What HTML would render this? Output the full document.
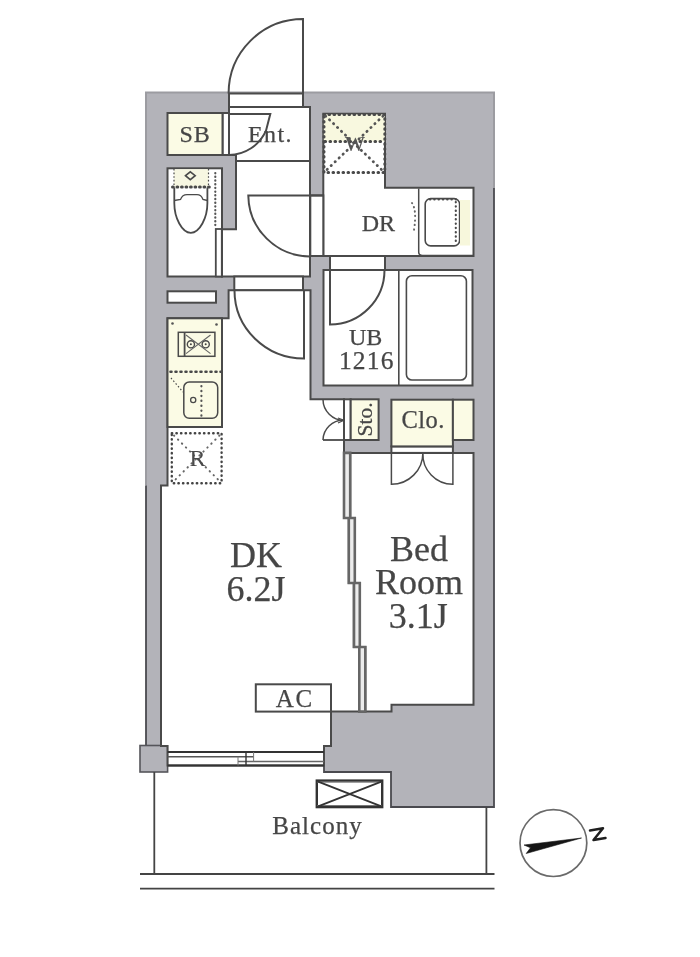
<!DOCTYPE html>
<html><head><meta charset="utf-8"><title>Floor plan</title>
<style>
html,body{margin:0;padding:0;background:#fff;}
body{width:700px;height:957px;overflow:hidden;}
svg{display:block;will-change:transform;}
text{font-family:"Liberation Serif",serif;fill:#464646;stroke:#464646;stroke-width:0.25px;}
</style></head><body>
<svg width="700" height="957" viewBox="0 0 700 957">
<rect width="700" height="957" fill="#fff"/>
<!-- ===== outer gray envelope ===== -->
<path d="M146,92.5 H494 V807 H391 V772 H324 V746 H331 V711.6 H167.6 V746 H146 Z" fill="#b3b3b9"/>
<path d="M494,188 V92.5 H146 V485.5" fill="none" stroke="#9c9ca1" stroke-width="2"/>
<path d="M331,711.6 V746 H324 V772 H391 V807 H494 V188 M146,485.5 V745.5" fill="none" stroke="#4a4a4f" stroke-width="1.8"/>
<!-- left pillar -->
<rect x="140" y="745.5" width="27.6" height="26.5" fill="#b3b3b9" stroke="#55555a" stroke-width="1.6"/>
<!-- ===== white rooms ===== -->
<g fill="#fff" stroke="#4a4a4a" stroke-width="2">
  <!-- entrance door frame in top wall -->
  <rect x="229" y="93.5" width="74" height="13.5"/>
  <!-- Ent -->
  <path d="M229,107 H310 V161 H236 V155 H229 Z"/>
  <!-- SB/Ent strip -->
  <rect x="222.5" y="113" width="6.5" height="42"/>
  <!-- hallway -->
  <path d="M236,161 H310 V276.5 H222 V229.3 H236 Z"/>
  <!-- toilet -->
  <rect x="167.5" y="168.3" width="54.5" height="108.2"/>
  <!-- W + DR -->
  <path d="M323.3,113.8 H385 V187.8 H473.5 V256 H323.3 Z"/>
  <!-- DR door opening -->
  <rect x="310.3" y="195.4" width="13" height="60.6"/>
  <!-- UB -->
  <rect x="323.5" y="270" width="149" height="115.5"/>
  <!-- UB door opening -->
  <rect x="330" y="256" width="55" height="14"/>
  <!-- DK door frame -->
  <rect x="234.3" y="276.5" width="68.7" height="13.8"/>
  <!-- shelf niche -->
  <rect x="167.5" y="291.3" width="48.5" height="11.4"/>
  <!-- DK main polygon -->
  <path d="M228.6,290.3 H310.5 V399.3 H344 V518 H348.8 V583 H353.8 V647 H359.3 V711.6 H331 V746 H324 V765.5 H167.6 V746 H161 V485.4 H167.5 V318.3 H228.6 Z"/>
  <!-- Sto door frame strip -->
  <rect x="344" y="399.3" width="6.7" height="40.7"/>
  <!-- bedroom -->
  <path d="M350.2,452.9 H473.5 V704.7 H391.5 V711.6 H365.3 V647 H359.8 V583 H354.8 V518 H350.2 Z"/>
  <!-- partition strip -->
  <path d="M344,452.9 H350.2 V518 H354.8 V583 H359.8 V647 H365.3 V711.6 H359.3 V647 H354 V583 H348.8 V518 H344 Z" fill="#ececec" stroke="#666" stroke-width="2.6"/>
  <!-- Clo door frame -->
  <rect x="391.4" y="446.4" width="61.5" height="6.5"/>
</g>
<!-- cream boxes -->
<g fill="#fbfbe5" stroke="#4a4a4a" stroke-width="2">
  <rect x="167.5" y="113" width="55" height="42"/>
  <rect x="350.7" y="399.3" width="27.9" height="40.7"/>
  <rect x="391.4" y="399.7" width="61.5" height="46.7"/>
  <rect x="452.9" y="399.7" width="20.6" height="40.3"/>
  <rect x="167.5" y="318.3" width="54.5" height="108.7"/>
</g>

<!-- ===== fixtures ===== -->
<g fill="none" stroke="#4a4a4a" stroke-width="1.8">
  <!-- toilet sliding door -->
  <rect x="215.8" y="229" width="6" height="47.5" fill="#fff"/>
  <!-- toilet tank -->
  <rect x="174" y="169.2" width="34.5" height="17.5" fill="#f7f7e2" stroke="none"/>
  <line x1="172.5" y1="187" x2="210" y2="187" stroke-width="3" stroke-linecap="round" stroke-dasharray="0.8,3.7"/>
  <line x1="174" y1="169" x2="174" y2="187" stroke-width="1.2" stroke-dasharray="1.6,2"/>
  <line x1="208.5" y1="169" x2="208.5" y2="187" stroke-width="1.2" stroke-dasharray="1.6,2"/>
  <path d="M185.5,175.7 L190.3,171.8 L195.2,175.7 L190.3,179.6 Z" stroke-width="1.6"/>
  <!-- bowl -->
  <path d="M174.3,187.5 V203 C174.3,218 182,232.8 190.8,232.8 C199.6,232.8 207.4,218 207.4,203 V187.5"/>
  <path d="M174.3,200.5 L180.5,199.5 C182,195.5 184,194.6 187,194.6 H197 C200,194.6 201.6,195.5 203,199.5 L207.4,200.5" stroke-width="1.3"/>
  <line x1="215.3" y1="173" x2="215.3" y2="226" stroke-width="2.2" stroke-linecap="round" stroke-dasharray="0.3,3.4" stroke="#555"/>
  <!-- SB door small kink -->
  <!-- kitchen stove -->
  <rect x="178.3" y="332.3" width="36.6" height="24" stroke-width="1.5"/>
  <line x1="184.6" y1="332.3" x2="184.6" y2="356.3"/>
  <circle cx="190.9" cy="344.3" r="3.6" stroke-width="1.4"/>
  <circle cx="205.7" cy="344.3" r="3.6" stroke-width="1.4"/>
  <path d="M186,335 L198.3,344.3 L186,353.6 M210.5,335 L198.3,344.3 L210.5,353.6" stroke-width="1.1" stroke="#666"/>
  <circle cx="190.9" cy="344.3" r="1" fill="#444" stroke="none"/>
  <circle cx="205.7" cy="344.3" r="1" fill="#444" stroke="none"/>
  <circle cx="172.5" cy="323.5" r="1.3" fill="#555" stroke="none"/>
  <circle cx="216.5" cy="324.5" r="1.3" fill="#555" stroke="none"/>
  <line x1="170.5" y1="371.7" x2="221" y2="371.7" stroke-width="2.6" stroke-linecap="round" stroke-dasharray="1,4"/>
  <!-- kitchen sink -->
  <rect x="183.8" y="382" width="33.9" height="36.3" rx="5.5" stroke-width="1.5"/>
  <circle cx="193.2" cy="400" r="2.6" stroke-width="1.3"/>
  <line x1="201.4" y1="386" x2="201.4" y2="416" stroke-width="2.2" stroke-linecap="round" stroke-dasharray="0.3,4.6" stroke="#555"/>
  <line x1="171" y1="378" x2="183" y2="392" stroke-width="1.2" stroke-dasharray="1.4,2.2"/>
  <!-- fridge -->
  <rect x="171.8" y="433.2" width="49.8" height="50" stroke-width="2.4" stroke-linecap="round" stroke-dasharray="0.4,4.2" stroke="#444"/>
  <path d="M174,435.5 L219.5,481 M219.5,435.5 L174,481" stroke-width="2" stroke-linecap="round" stroke-dasharray="0.4,5.2" stroke="#666"/>
  <!-- W box -->
  <rect x="323.8" y="114.5" width="61" height="27" fill="#f8f8df" stroke="none"/>
  <rect x="324" y="114.5" width="60.8" height="58" stroke-width="3" stroke-linecap="round" stroke-dasharray="0.6,4.4"/>
  <line x1="325" y1="141.6" x2="384.8" y2="141.6" stroke-width="3" stroke-linecap="round" stroke-dasharray="0.6,4.4"/>
  <path d="M325.5,116 L383,171 M383,116 L325.5,171" stroke-width="2.8" stroke-linecap="round" stroke-dasharray="0.3,5.2" stroke="#555"/>
  <!-- vanity -->
  <path d="M418.7,188.6 V252 Q418.7,255.5 422.5,255.5 H473.5" stroke-width="1.5"/>
  <rect x="425.2" y="198.6" width="34.4" height="47.3" rx="5.5" stroke-width="1.6"/>
  <rect x="460" y="200" width="10" height="45.5" fill="#f7f7dc" stroke="none"/>
  <line x1="455.8" y1="202" x2="455.8" y2="242" stroke-width="2.2" stroke-linecap="round" stroke-dasharray="0.3,4"/>
  <line x1="430" y1="199.5" x2="456" y2="199.5" stroke-width="2.2" stroke-linecap="round" stroke-dasharray="0.3,4"/>
  <path d="M412,203 Q417,210 414,230" stroke-width="2" stroke-linecap="round" stroke-dasharray="0.3,4.2" stroke="#666"/>
  <!-- bathtub -->
  <line x1="398.8" y1="270" x2="398.8" y2="385.5" stroke-width="1.6"/>
  <rect x="406.4" y="275.7" width="60" height="104.3" rx="5.5" stroke-width="1.6"/>
  <!-- Sto doors -->
  <path d="M323,399.5 A21,21 0 0 0 344,420.3 M323,440 A20,20 0 0 1 344,420.3" stroke-width="1.5"/>
  <line x1="323" y1="440" x2="344" y2="440"/>
  <path d="M344,420.3 L338,418 M344,420.3 L338,423" stroke-width="1.2"/>
  <!-- Clo bifold doors -->
  <path d="M391.4,452.9 V484.3 A31.5,31.5 0 0 0 422.9,452.9 A30,30 0 0 0 452.9,484.3 V452.9" stroke-width="1.5"/>
</g>
<!-- ===== texts ===== -->
<g>
  <text x="195.2" y="141.6" font-size="24" text-anchor="middle" letter-spacing="1">SB</text>
  <text x="270.5" y="141.6" font-size="24" text-anchor="middle" letter-spacing="1.4">Ent.</text>
  <text x="378.3" y="231" font-size="24" text-anchor="middle">DR</text>
  <text x="365.7" y="344.6" font-size="24" text-anchor="middle">UB</text>
  <text x="366.8" y="368.6" font-size="25.5" text-anchor="middle" letter-spacing="1.2">1216</text>
  <text x="423.2" y="427.6" font-size="24.5" text-anchor="middle" letter-spacing="0.5">Clo.</text>
  <text transform="translate(371.5,419.4) rotate(-90)" x="0" y="0" font-size="21.5" text-anchor="middle">Sto.</text>
  <text x="355" y="151" font-size="21" text-anchor="middle" style="fill:#555;stroke:#555;stroke-width:0.2px">W</text>
  <text x="197.5" y="466" font-size="24" text-anchor="middle" style="fill:#4a4a4a;stroke:none">R</text>
  <text x="256" y="567.4" font-size="36" text-anchor="middle">DK</text>
  <text x="256" y="601.4" font-size="36" text-anchor="middle">6.2J</text>
  <text x="419" y="560.9" font-size="36" text-anchor="middle">Bed</text>
  <text x="419" y="594.3" font-size="36" text-anchor="middle">Room</text>
  <text x="418.3" y="627.7" font-size="36" text-anchor="middle">3.1J</text>
  <rect x="255.8" y="684.3" width="75.2" height="27.3" fill="#fff" stroke="#4a4a4a" stroke-width="2"/>
  <text x="294.8" y="706.6" font-size="25" text-anchor="middle" letter-spacing="1.8">AC</text>
  <text x="317.5" y="833.6" font-size="25" text-anchor="middle" letter-spacing="1">Balcony</text>
</g>
<!-- ===== entrance door ===== -->
<g fill="none" stroke="#4a4a4a" stroke-width="2">
  <path d="M303,93.5 V19 A74.5,74.5 0 0 0 228.6,93.5"/>
  <path d="M229,114 H270.3 L266,130.7 A41,41 0 0 1 229,155"/>
  <!-- DR door -->
  <path d="M323.5,195.4 H248.3 A61.8,61.8 0 0 0 310.3,256.4"/>
  <!-- DK door -->
  <path d="M304,290.3 V358.5 A69.5,68 0 0 1 234.5,290.3"/>
  <!-- UB door -->
  <path d="M330,256 V324.5 A54.5,54.5 0 0 0 384.5,270"/>
  <!-- Ent step line -->
  <line x1="236" y1="161" x2="310" y2="161"/>
</g>
<!-- ===== balcony ===== -->
<g fill="none" stroke="#444" stroke-width="1.8">
  <line x1="154.3" y1="772" x2="154.3" y2="874"/>
  <line x1="486.4" y1="807" x2="486.4" y2="874"/>
  <line x1="140" y1="874" x2="494.5" y2="874"/>
  <line x1="140" y1="888.7" x2="494.5" y2="888.7"/>
</g>
<!-- window -->
<g fill="none" stroke="#333" stroke-width="1.8">
  <line x1="167.6" y1="752" x2="324" y2="752"/>
  <line x1="167.6" y1="765.5" x2="324" y2="765.5"/>
  <line x1="167.6" y1="756.7" x2="253.6" y2="756.7" stroke="#555" stroke-width="1.6"/>
  <line x1="238" y1="761.6" x2="324" y2="761.6" stroke="#666" stroke-width="1.5"/>
  <line x1="246" y1="752" x2="246" y2="765.5" stroke-width="1.4"/>
  <line x1="253.6" y1="752" x2="253.6" y2="761.6" stroke="#777" stroke-width="1"/>
  <line x1="238" y1="756.7" x2="238" y2="765.5" stroke="#777" stroke-width="1"/>
</g>
<!-- outdoor unit -->
<g fill="none" stroke="#333" stroke-width="1.6">
  <rect x="316.8" y="780.6" width="65.4" height="26.5" fill="#fff" stroke-width="2.4"/>
  <line x1="317" y1="782.2" x2="382" y2="782.2" stroke="#777" stroke-width="1"/>
  <line x1="317" y1="805.5" x2="382" y2="805.5" stroke="#777" stroke-width="1"/>
  <path d="M317.5,781.3 L382,806.6 M317.5,806.6 L382,781.3" stroke-width="1.8"/>
</g>
<!-- compass -->
<g>
  <circle cx="553.4" cy="843.1" r="33.4" fill="none" stroke="#6a6a6a" stroke-width="1.7"/>
  <path d="M581.5,838 L524,845 L530.5,847.8 L526.2,853.5 Z" fill="#151515" stroke="#151515" stroke-width="0.6" stroke-linejoin="round"/>
  <path d="M590,830.6 L603,828.3 L593.5,840 L605.5,838" fill="none" stroke="#1e1e1e" stroke-width="2.5" stroke-linecap="round" stroke-linejoin="round"/>
</g>
</svg>
</body></html>
